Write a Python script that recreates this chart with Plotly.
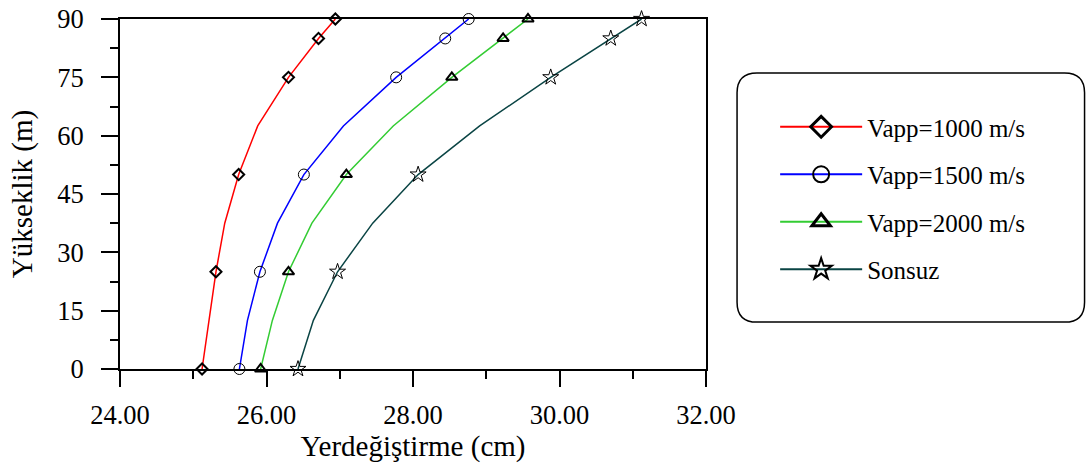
import plotly.graph_objects as go

# ---- data ----
heights = [0, 12.5, 25, 37.5, 50, 62.5, 75, 85, 90]
marker_idx = [0, 2, 4, 6, 7, 8]          # points that carry a symbol

v1000 = [25.12, 25.21, 25.31, 25.43, 25.62, 25.88, 26.30, 26.71, 26.94]
v1500 = [25.63, 25.74, 25.91, 26.15, 26.51, 27.05, 27.77, 28.44, 28.76]
v2000 = [25.92, 26.08, 26.30, 26.62, 27.09, 27.73, 28.53, 29.23, 29.57]
vinf  = [26.43, 26.64, 26.97, 27.45, 28.07, 28.91, 29.88, 30.70, 31.12]

names = ["Vapp=1000 m/s", "Vapp=1500 m/s", "Vapp=2000 m/s", "Sonsuz"]
series = [v1000, v1500, v2000, vinf]

x_ticks = [24, 26, 28, 30, 32]
y_ticks = [0, 15, 30, 45, 60, 75, 90]

x_title = "Yerdeğiştirme (cm)"
y_title = "Yükseklik (m)"

# ---- styles ----
colors = ["#ff0000", "#0000ff", "#33cc33", "#0a4444"]
symbols = ["diamond-open", "circle-open", "triangle-up-open", "star-open"]
msizes = [8.5, 11, 10, 12]
mwidths = [2, 1, 2, 1]

FONT = "Liberation Serif"

fig = go.Figure()
for i, (nm, vals) in enumerate(zip(names, series)):
    fig.add_trace(go.Scatter(
        x=vals, y=heights, mode="lines",
        line=dict(color=colors[i], width=1.5),
        showlegend=False, legendgroup=nm, hoverinfo="skip"))
    fig.add_trace(go.Scatter(
        x=[vals[k] for k in marker_idx], y=[heights[k] for k in marker_idx],
        mode="markers",
        marker=dict(symbol=symbols[i], size=msizes[i], color="black",
                    line=dict(color="black", width=mwidths[i])),
        showlegend=False, legendgroup=nm, cliponaxis=False))
    # legend entry
    fig.add_trace(go.Scatter(
        x=[None], y=[None], mode="lines+markers", name=nm, legendgroup=nm,
        line=dict(color=colors[i], width=2),
        marker=dict(symbol=symbols[i], size=16, color="black",
                    line=dict(color="black", width=mwidths[i] + 1))))

# rounded legend frame (paper coordinates)
x0, x1 = 1.053, 1.646
y0, y1 = 0.134, 0.846
rx, ry = 0.034, 0.057
path = (f"M{x0+rx},{y1} L{x1-rx},{y1} Q{x1},{y1} {x1},{y1-ry} "
        f"L{x1},{y0+ry} Q{x1},{y0} {x1-rx},{y0} L{x0+rx},{y0} "
        f"Q{x0},{y0} {x0},{y0+ry} L{x0},{y1-ry} Q{x0},{y1} {x0+rx},{y1} Z")
fig.add_shape(type="path", path=path, xref="paper", yref="paper",
              line=dict(color="black", width=1.5))

# y-axis title as rotated text
fig.add_annotation(text=y_title, xref="paper", yref="paper",
                   x=-0.167, y=0.5, xanchor="center", yanchor="middle",
                   textangle=-90, showarrow=False,
                   font=dict(family=FONT, size=29, color="black"))

fig.update_layout(
    width=1087, height=467,
    margin=dict(l=120, r=381, t=19, b=98, autoexpand=False),
    paper_bgcolor="white", plot_bgcolor="white",
    font=dict(family=FONT, size=26, color="black"),
    showlegend=True,
    legend=dict(x=1.118, y=0.757, xanchor="left", yanchor="top",
                bgcolor="rgba(0,0,0,0)", borderwidth=0,
                font=dict(family=FONT, size=25, color="black"),
                tracegroupgap=12, itemwidth=82),
)
fig.update_xaxes(
    range=[24, 32], tickvals=x_ticks, tickformat=".2f",
    showgrid=False, zeroline=False,
    showline=True, linecolor="black", linewidth=2, mirror=True,
    ticks="outside", ticklen=16, tickwidth=2, tickcolor="black",
    minor=dict(ticks="outside", ticklen=8, tickwidth=2, dtick=1, tickcolor="black"),
    tickfont=dict(family=FONT, size=26.5),
    ticklabelstandoff=5,
    title=dict(text=x_title, font=dict(family=FONT, size=29), standoff=3),
)
fig.update_yaxes(
    range=[0, 90], tickvals=y_ticks,
    showgrid=False, zeroline=False,
    showline=True, linecolor="black", linewidth=2, mirror=True,
    ticks="outside", ticklen=17, tickwidth=2, tickcolor="black",
    minor=dict(ticks="outside", ticklen=8, tickwidth=2, dtick=7.5, tickcolor="black"),
    tickfont=dict(family=FONT, size=26.5),
    ticklabelstandoff=12,
)

fig.write_html("out.html")
